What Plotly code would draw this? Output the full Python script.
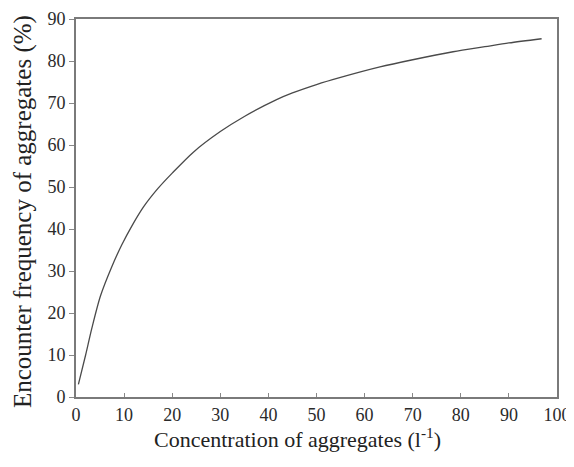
import plotly.graph_objects as go

conc = [0.5, 2, 3.3, 5.1, 7.4, 9.5, 11.6, 14, 17, 20, 24.4, 30, 35, 41.7, 45, 50, 55, 63.2, 70, 78.4, 85, 90, 96.8]
freq = [3.0, 10, 16.4, 24.1, 30.9, 36.2, 40.7, 45.2, 49.6, 53.3, 58.3, 63.2, 66.8, 70.8, 72.4, 74.4, 76.1, 78.6, 80.3, 82.2, 83.4, 84.3, 85.3]
x_ticks = list(range(0, 101, 10))
y_ticks = list(range(0, 91, 10))

# page body has an 8px margin; the figure is offset accordingly
OFF = 8
W, H = 574 - OFF, 467 - 2 * OFF
ml, mt = 76 - OFF, 19 - OFF
mr = W - (557 - OFF)
mb = H - (397 - OFF)
pw, ph = W - ml - mr, H - mt - mb

fig = go.Figure()
fig.add_trace(go.Scatter(x=conc, y=freq, mode="lines", line=dict(color="#4a4a4a", width=1.3, shape="spline", smoothing=0.8),
                         showlegend=False, hoverinfo="skip"))

font = "Liberation Serif, Times New Roman, serif"
tf = dict(size=18, family=font, color="#2a2a2a")
fig.update_layout(
    width=W, height=H,
    margin=dict(l=ml, r=mr, t=mt, b=mb, autoexpand=False),
    paper_bgcolor="white", plot_bgcolor="white",
    font=dict(family=font, color="#2a2a2a", size=18),
    xaxis=dict(range=[0, 100], tickvals=x_ticks, showgrid=False, zeroline=False, automargin=False,
               showline=True, linecolor="#7a7a7a", linewidth=1.8, mirror=True, ticklabeloverflow="allow",
               ticks="inside", ticklen=4, tickcolor="#888", tickfont=tf),
    yaxis=dict(range=[0, 90], tickvals=y_ticks, showgrid=False, zeroline=False, automargin=False,
               showline=True, linecolor="#7a7a7a", linewidth=1.8, mirror=True, ticklabeloverflow="allow",
               ticks="outside", ticklen=5, tickcolor="#888", tickfont=tf),
    annotations=[
        dict(text="Concentration of aggregates (l<sup>-1</sup>)", xref="paper", yref="paper",
             x=(297 - 76) / pw, y=-(438 - 397) / ph, showarrow=False,
             xanchor="center", yanchor="middle", font=dict(size=22, family=font, color="#222")),
        dict(text="Encounter frequency of aggregates (%)", xref="paper", yref="paper",
             x=-(76 - 23) / pw, y=(397 - 212) / ph, textangle=-90, showarrow=False,
             xanchor="center", yanchor="middle", font=dict(size=25, family=font, color="#222")),
    ],
)
fig.write_html("out.html")
